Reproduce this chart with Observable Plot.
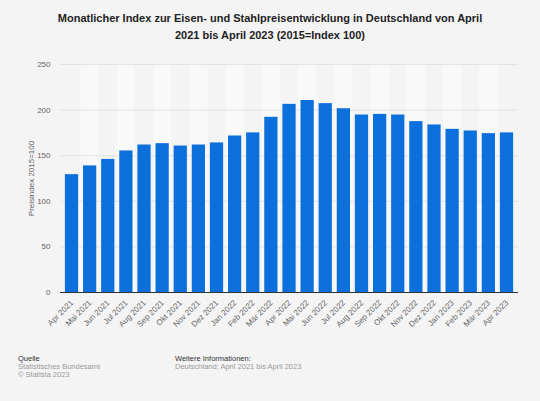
<!DOCTYPE html>
<html><head><meta charset="utf-8">
<script src="https://cdn.jsdelivr.net/npm/d3@7"></script>
<script src="https://cdn.jsdelivr.net/npm/@observablehq/plot@0.6"></script>
<style>
body{margin:0;background:#f4f4f4;width:540px;height:401px;position:relative;overflow:hidden;font-family:"Liberation Sans",Arial,sans-serif;}
#title{position:absolute;top:10px;left:0;width:540px;text-align:center;font-weight:bold;font-size:11px;line-height:17px;color:#222;}
#chart{position:absolute;top:50px;left:0;}
.foot{position:absolute;top:355px;font-size:7.5px;line-height:8px;color:#999;}
.foot .h{color:#333;}
</style></head><body>
<div id="title">Monatlicher Index zur Eisen- und Stahlpreisentwicklung in Deutschland von April<br>2021 bis April 2023 (2015=Index 100)</div>
<div id="chart"></div>
<div class="foot" style="left:18px"><div class="h">Quelle</div><div>Statistisches Bundesamt</div><div>© Statista 2023</div></div>
<div class="foot" style="left:175px"><div class="h">Weitere Informationen:</div><div>Deutschland; April 2021 bis April 2023</div></div>
<script>
const months = ["Apr 2021","Mai 2021","Jun 2021","Jul 2021","Aug 2021","Sep 2021","Okt 2021","Nov 2021","Dez 2021","Jan 2022","Feb 2022","Mär 2022","Apr 2022","Mai 2022","Jun 2022","Jul 2022","Aug 2022","Sep 2022","Okt 2022","Nov 2022","Dez 2022","Jan 2023","Feb 2023","Mär 2023","Apr 2023"];
const values = [129.2,138.8,145.9,155.2,161.7,163.2,160.6,161.7,164.0,171.6,175.0,192.1,206.3,210.5,207.1,201.5,194.6,195.3,194.6,187.4,183.7,178.9,177.1,174.2,175.0];
const yTicks = [0,50,100,150,200,250];
const gridTicks = [50,100,150,200,250];

const data = months.map((m,i)=>({month:m,value:values[i]}));
const stripes = months.filter((m,i)=>i%2===1);
const W=540, mL=60, mR=22, pad=0.27;
const step=(W-mL-mR)/(months.length+pad);
const half=step*pad/2;

const chart = Plot.plot({
  width:W, height:300, marginTop:14, marginLeft:mL, marginRight:mR, marginBottom:58,
  style:{background:"transparent", fontFamily:"'Liberation Sans',Arial,sans-serif", fontSize:"8px", color:"#666"},
  x:{domain:months, padding:pad, round:false, label:null},
  y:{domain:[0,250], label:null},
  marks:[
    Plot.barY(stripes,{x:d=>d, y1:0, y2:250, fill:"#f9f9f9", insetLeft:-half, insetRight:-half}),
    Plot.gridY(gridTicks,{stroke:"#e3e3e3", strokeOpacity:1}),
    Plot.barY(data,{x:"month", y:"value", fill:"#0b6fdc"}),
    Plot.ruleY([0],{stroke:"#333", strokeWidth:1}),
    Plot.axisX({tickRotate:-45, tickSize:0, tickPadding:9, fill:"#666", label:null}),
    Plot.axisY(yTicks,{tickSize:0, tickPadding:10, fill:"#666", label:"Preisindex 2015=100", labelAnchor:"center", labelArrow:"none", labelOffset:32})
  ]
});
document.getElementById("chart").appendChild(chart);
</script>
</body></html>
